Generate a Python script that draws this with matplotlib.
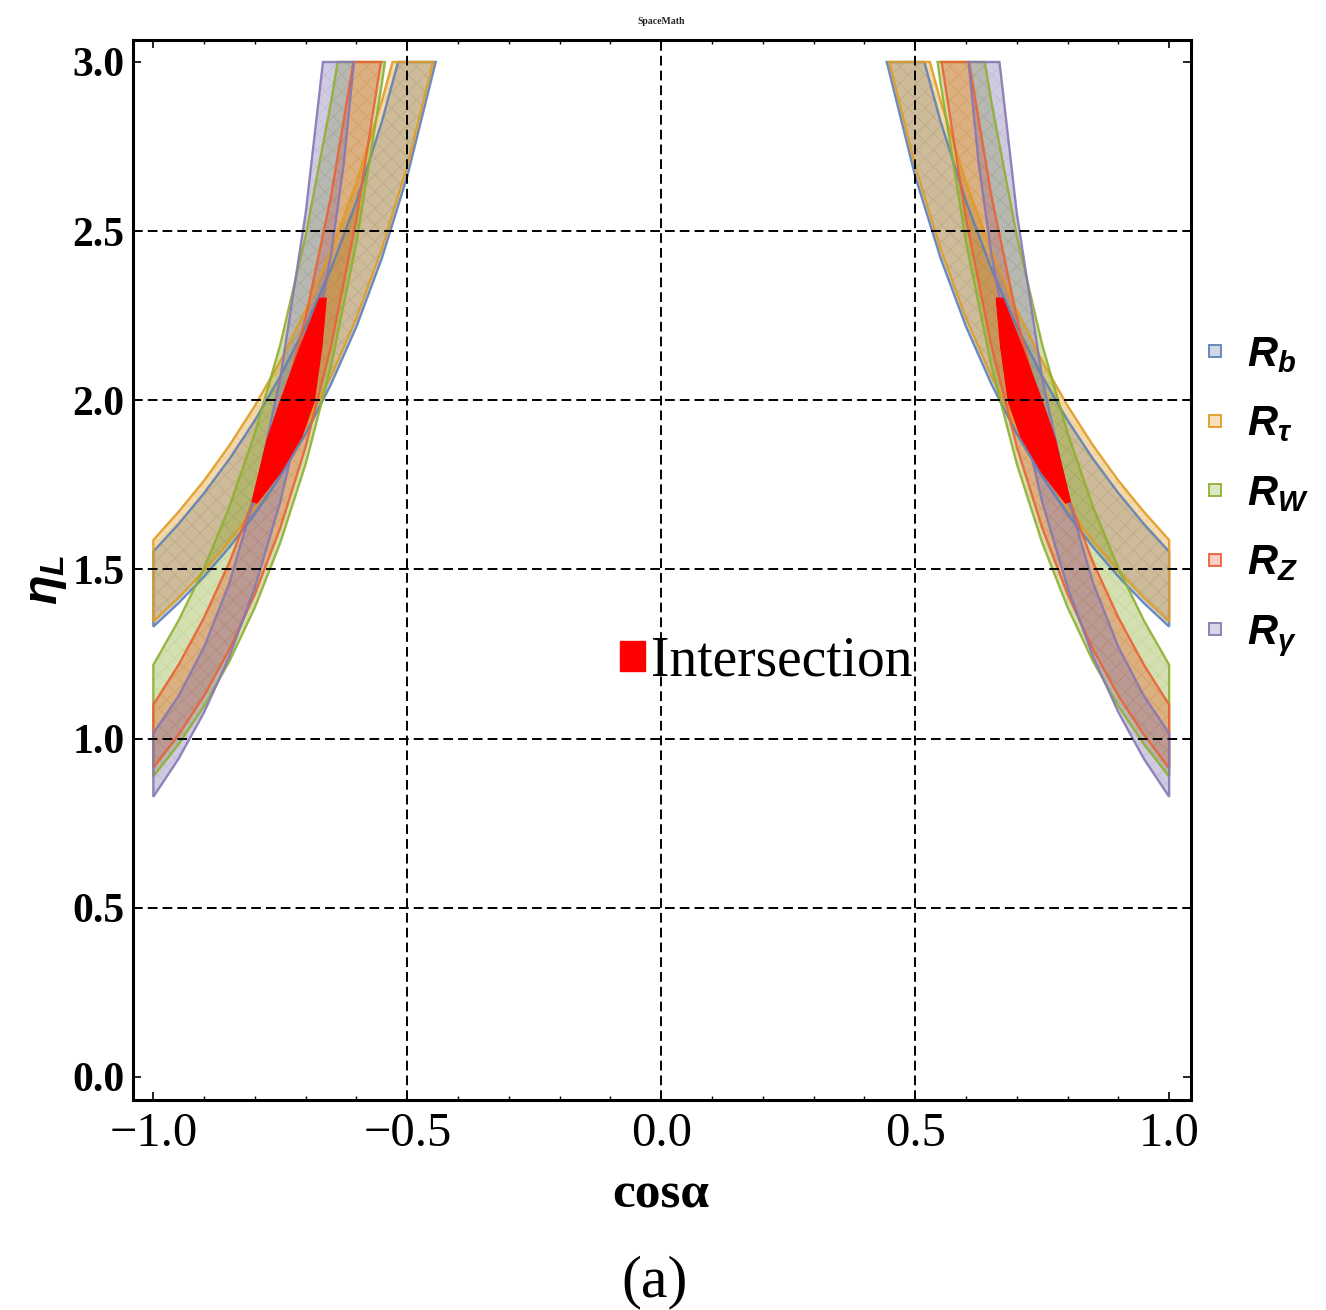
import numpy as np
import matplotlib
matplotlib.use("Agg")
import matplotlib.pyplot as plt
from matplotlib.lines import Line2D
from matplotlib.patches import Polygon, Patch
from matplotlib.colors import to_rgba

plt.rcParams['mathtext.fontset'] = 'custom'
plt.rcParams['mathtext.it'] = 'Liberation Sans:italic:bold'
plt.rcParams['mathtext.rm'] = 'Liberation Sans:bold'
plt.rcParams['mathtext.bf'] = 'Liberation Sans:bold'
plt.rcParams['hatch.linewidth'] = 0.6

# ---------------- data (left half, |cos a| ; mirrored to the right) ----------
series_labels = [r'$R_b$', r'$R_\tau$', r'$R_W$', r'$R_Z$', r'$R_\gamma$']
series_colors = ['#5E81B5', '#E19C24', '#8FB032', '#EB6235', '#8778B3']

rb_up_c = [1.0, 0.95, 0.90, 0.85, 0.80, 0.75, 0.70, 0.65, 0.60, 0.55, 0.518]
rb_up_e = [1.553, 1.635, 1.726, 1.827, 1.941, 2.071, 2.219, 2.389, 2.588, 2.824, 3.0]
rb_lo_c = [1.0, 0.95, 0.90, 0.85, 0.80, 0.75, 0.70, 0.65, 0.60, 0.55, 0.50, 0.444]
rb_lo_e = [1.331, 1.401, 1.479, 1.566, 1.664, 1.775, 1.901, 2.048, 2.218, 2.420, 2.662, 3.0]

rt_up_c = [1.0, 0.95, 0.90, 0.85, 0.80, 0.75, 0.70, 0.65, 0.60, 0.55, 0.529]
rt_up_e = [1.587, 1.671, 1.763, 1.867, 1.984, 2.116, 2.267, 2.442, 2.645, 2.885, 3.0]
rt_lo_c = [1.0, 0.95, 0.90, 0.85, 0.80, 0.75, 0.70, 0.65, 0.60, 0.55, 0.50, 0.449]
rt_lo_e = [1.346, 1.417, 1.496, 1.584, 1.683, 1.795, 1.923, 2.071, 2.243, 2.447, 2.692, 3.0]

rw_up_c = [1.0, 0.95, 0.90, 0.85, 0.80, 0.75, 0.70, 0.65, 0.637]
rw_up_e = [1.218, 1.350, 1.504, 1.686, 1.903, 2.165, 2.486, 2.883, 3.0]
rw_lo_c = [1.0, 0.95, 0.90, 0.85, 0.80, 0.75, 0.70, 0.65, 0.60, 0.55, 0.544]
rw_lo_e = [0.888, 0.984, 1.096, 1.229, 1.388, 1.579, 1.812, 2.102, 2.467, 2.936, 3.0]

rz_up_c = [1.0, 0.95, 0.90, 0.85, 0.80, 0.75, 0.70, 0.65, 0.606]
rz_up_e = [1.100, 1.219, 1.358, 1.522, 1.719, 1.956, 2.245, 2.604, 3.0]
rz_lo_c = [1.0, 0.95, 0.90, 0.85, 0.80, 0.75, 0.70, 0.65, 0.60, 0.552]
rz_lo_e = [0.913, 1.012, 1.127, 1.264, 1.427, 1.623, 1.863, 2.161, 2.536, 3.0]

rg_up_c = [1.0, 0.95, 0.90, 0.85, 0.80, 0.75, 0.70, 0.666]
rg_up_e = [1.016, 1.127, 1.271, 1.461, 1.717, 2.066, 2.554, 3.0]
rg_lo_c = [1.0, 0.95, 0.90, 0.85, 0.80, 0.75, 0.70, 0.65, 0.625, 0.605]
rg_lo_e = [0.828, 0.941, 1.078, 1.243, 1.447, 1.700, 2.020, 2.431, 2.700, 3.0]

# intersection region (left half)
int_outer_c = [0.6726, 0.7106, 0.7500, 0.7762, 0.8058]
int_outer_e = [2.302, 2.159, 1.998, 1.883, 1.701]
int_inner_c = [0.7959, 0.7500, 0.7073, 0.6831, 0.6680, 0.6594]
int_inner_e = [1.696, 1.785, 1.893, 1.998, 2.159, 2.302]

x_ticks = [-1.0, -0.5, 0.0, 0.5, 1.0]
y_ticks = [0.0, 0.5, 1.0, 1.5, 2.0, 2.5, 3.0]
x_grid = [-0.5, 0.0, 0.5]
y_grid = [0.5, 1.0, 1.5, 2.0, 2.5]

bands = [
    (rb_up_c, rb_up_e, rb_lo_c, rb_lo_e),
    (rt_up_c, rt_up_e, rt_lo_c, rt_lo_e),
    (rw_up_c, rw_up_e, rw_lo_c, rw_lo_e),
    (rz_up_c, rz_up_e, rz_lo_c, rz_lo_e),
    (rg_up_c, rg_up_e, rg_lo_c, rg_lo_e),
]

# ---------------- figure ----------------
W, H = 1326, 1310
fig = plt.figure(figsize=(W / 100, H / 100), dpi=100)
ax = fig.add_axes([133 / W, 1 - 1100 / H, (1191 - 133) / W, (1100 - 40) / H])
ax.set_xlim(-1.04, 1.043)
ax.set_ylim(-0.068, 3.065)

for (uc, ue, lc, le), col in zip(bands, series_colors):
    for sgn in (-1, 1):
        pts = [(sgn * c, e) for c, e in zip(lc, le)] + \
              [(sgn * c, e) for c, e in zip(uc[::-1], ue[::-1])]
        ax.add_patch(Polygon(pts, closed=True, facecolor=to_rgba(col, 0.38),
                             edgecolor='none', zorder=2))
        ax.add_patch(Polygon(pts, closed=True, facecolor='none', hatch='xx',
                             edgecolor=to_rgba(col, 0.18), lw=0, zorder=2.5))
        ax.add_patch(Polygon(pts, closed=True, facecolor='none',
                             edgecolor=col, lw=1.7, alpha=0.9, zorder=3))

for sgn in (-1, 1):
    pts = [(sgn * c, e) for c, e in zip(int_outer_c, int_outer_e)] + \
          [(sgn * c, e) for c, e in zip(int_inner_c, int_inner_e)]
    ax.add_patch(Polygon(pts, closed=True, facecolor='#FF0000',
                         edgecolor='#FF0000', lw=0.8, zorder=4))

for gx in x_grid:
    ax.axvline(gx, color='black', lw=1.4, ls=(0, (5, 2.6)), zorder=5)
for gy in y_grid:
    ax.axhline(gy, color='black', lw=1.4, ls=(0, (5, 2.6)), zorder=5)

ax.set_xticks(x_ticks)
ax.set_xticklabels(['\u22121.0', '\u22120.5', '0.0', '0.5', '1.0'],
                   family='Liberation Serif', fontsize=35)
ax.set_yticks(y_ticks)
ax.set_yticklabels(['0.0', '0.5', '1.0', '1.5', '2.0', '2.5', '3.0'],
                   family='Liberation Serif', fontsize=30, fontweight='bold')
ax.set_xticks(np.arange(-1.0, 1.01, 0.1), minor=True)
ax.tick_params(which='both', direction='in', top=True, right=True)
ax.tick_params(which='major', length=6, width=1.2)
ax.tick_params(which='minor', length=3, width=1.0)
ax.tick_params(axis='x', pad=9)
ax.tick_params(axis='y', pad=6)
for sp in ax.spines.values():
    sp.set_linewidth(2.2)

# legends
handles = [Line2D([], [], ls='none', marker='s', markersize=8,
                  markerfacecolor=to_rgba(c, 0.3),
                  markeredgecolor=c, markeredgewidth=1.3) for c in series_colors]
leg1 = ax.legend(handles, series_labels, loc='center left',
                 bbox_to_anchor=(1.012, 0.570), frameon=False,
                 fontsize=30, handlelength=0.55, handletextpad=0.5,
                 labelspacing=0.66, borderpad=0, borderaxespad=0)
ax.add_artist(leg1)
leg2 = ax.legend([Patch(facecolor='#FF0000', edgecolor='#FF0000')], ['Intersection'],
                 loc='center left', bbox_to_anchor=((620 - 133) / 1058, (1100 - 662) / 1060),
                 frameon=False, prop={'family': 'Liberation Serif', 'size': 40},
                 handlelength=0.45, handleheight=0.45, handletextpad=0.1,
                 borderpad=0, borderaxespad=0)

fig.text(661 / W, 1 - 1195 / H, 'cos\u03b1', family='Liberation Serif',
         fontweight='bold', fontsize=37, ha='center', va='center')
fig.text(655 / W, 1 - 1282 / H, '(a)', family='Liberation Serif',
         fontsize=43, ha='center', va='center')
fig.text(45 / W, 1 - 580 / H, r'$\eta_L$', fontsize=35, rotation=90,
         ha='center', va='center')
fig.text(661 / W, 1 - 22 / H, 'SpaceMath', family='Liberation Serif',
         fontweight='bold', fontsize=7, ha='center', va='center', color='#222222')

fig.savefig('out.png', dpi=100)
